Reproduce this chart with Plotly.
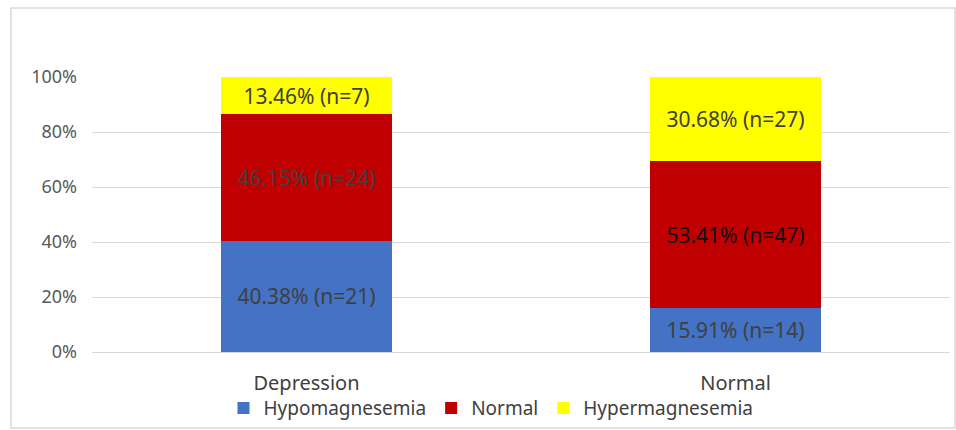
import plotly.graph_objects as go

groups = ["Depression", "Normal"]
series_names = ["Hypomagnesemia", "Normal", "Hypermagnesemia"]
series_colors = ["#4472C4", "#C00000", "#FFFF00"]

# percentage share of each magnesium status per group
pct_hypo = [40.38, 15.91]
pct_normal = [46.15, 53.41]
pct_hyper = [13.46, 30.68]

# counts per group
n_hypo = [21, 14]
n_normal = [24, 47]
n_hyper = [7, 27]

pcts = [pct_hypo, pct_normal, pct_hyper]
counts = [n_hypo, n_normal, n_hyper]
label_colors = [["#404040", "#404040"], ["#404040", "#111111"], ["#404040", "#404040"]]

FONT = "Noto Sans"

fig = go.Figure()
for name, color, p, n, lc in zip(series_names, series_colors, pcts, counts, label_colors):
    fig.add_trace(go.Bar(
        x=groups,
        y=[v / 100 for v in p],
        name=name,
        marker=dict(color=color, line=dict(width=0)),
        text=[f"{v:.2f}% (n={c})" for v, c in zip(p, n)],
        textposition="inside",
        insidetextanchor="middle",
        textangle=0,
        textfont=dict(size=21, color=lc, family=FONT),
        width=0.4,
        hoverinfo="skip",
    ))

# outer frame around the whole chart
fig.add_shape(type="rect", xref="paper", yref="paper",
              x0=-0.0944, x1=1.0058, y0=-0.2764, y1=1.2509,
              line=dict(color="#D9D9D9", width=1.5), fillcolor="rgba(0,0,0,0)", layer="below")

fig.update_layout(
    barmode="stack",
    width=956, height=430,
    margin=dict(l=92, r=6, t=77, b=78, autoexpand=False),
    paper_bgcolor="white",
    plot_bgcolor="white",
    font=dict(family=FONT, color="#404040"),
    showlegend=True,
    legend=dict(orientation="h", x=0.465, xanchor="center",
                yref="container", y=0.051, yanchor="middle",
                font=dict(size=19, color="#404040"), traceorder="normal",
                itemwidth=30, bgcolor="rgba(0,0,0,0)"),
    bargap=0.6,
)
fig.update_yaxes(range=[0, 1], tickvals=[0, 0.2, 0.4, 0.6, 0.8, 1.0],
                 ticktext=["0%", "20%", "40%", "60%", "80%", "100%"],
                 showgrid=True, gridcolor="#D9D9D9", gridwidth=1,
                 zeroline=True, zerolinecolor="#D9D9D9", zerolinewidth=1,
                 showline=False, ticks="", ticklabelstandoff=14, automargin=False,
                 tickfont=dict(size=18, color="#595959"))
fig.update_xaxes(showline=False, ticks="", showgrid=False, automargin=False,
                 ticklabelstandoff=17,
                 tickfont=dict(size=20, color="#404040"))

fig.write_html("out.html")
